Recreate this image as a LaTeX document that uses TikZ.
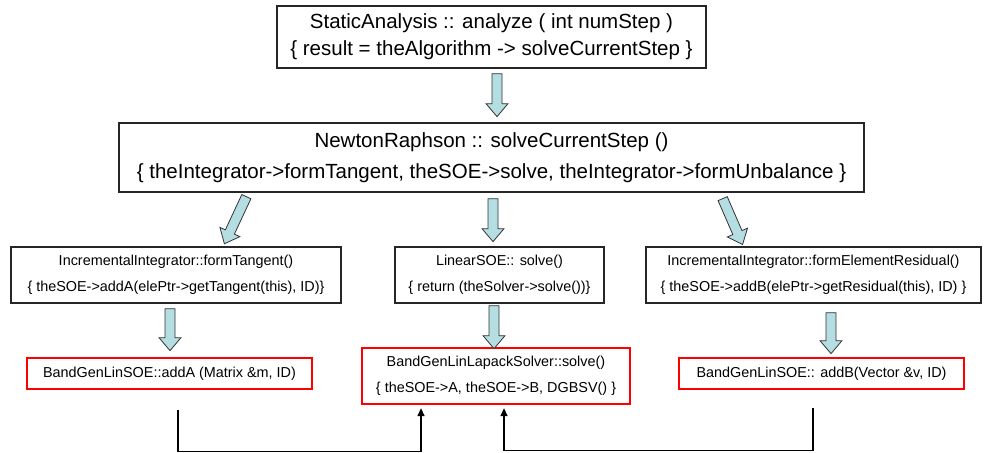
\documentclass[tikz,border=0pt]{standalone}
\usepackage{fontspec}
\setmainfont{Liberation Sans}
\usetikzlibrary{arrows.meta, positioning, calc}
\definecolor{arrowblue}{RGB}{180,222,226}

\begin{document}
\begin{tikzpicture}[
    x=1pt, y=-1pt,
    % Estilos de nodos
    callbox/.style={rectangle, draw=black!85, line width=1.3pt, align=center, inner sep=0pt},
    solverbox/.style={rectangle, draw=red, line width=1.3pt, align=center, inner sep=0pt},
    big/.style={font=\fontsize{20.5}{27}\selectfont},
    bigwide/.style={font=\fontsize{20.5}{31}\selectfont},
    small/.style={font=\fontsize{14.4}{26}\selectfont},
    link/.style={-{Triangle[length=8pt, width=7pt]}, line width=1.3pt},
    flowline/.style={draw=black!80, fill=arrowblue, line width=0.8pt},
    pics/flow/.style={code={
        \draw[flowline] (-5,0) -- (5,0) -- (5,{#1-13}) -- (11,{#1-13}) -- (0,#1)
            -- (-11,{#1-13}) -- (-5,{#1-13}) -- cycle;}}
]
\useasboundingbox (0,0) rectangle (984,452);

% Fila 1: analisis y algoritmo
\node[callbox, big, minimum width=429pt, minimum height=62pt] (analyze) at (491.5,37)
    {StaticAnalysis :: analyze ( int numStep )\\\{ result = theAlgorithm -> solveCurrentStep \}};
\node[callbox, bigwide, minimum width=745pt, minimum height=69pt] (newton) at (491.5,157.5)
    {NewtonRaphson :: solveCurrentStep ()\\\{ theIntegrator->formTangent, theSOE->solve, theIntegrator->formUnbalance \}};

% Fila 2: integrador y sistema de ecuaciones
\node[callbox, small, minimum width=330pt, minimum height=56pt] (tangent) at (176,275)
    {IncrementalIntegrator::formTangent()\\\{ theSOE->addA(elePtr->getTangent(this), ID)\}};
\node[callbox, small, minimum width=209pt, minimum height=56pt] (solve) at (499.5,275)
    {LinearSOE:: solve()\\\{ return (theSolver->solve())\}};
\node[callbox, small, minimum width=335pt, minimum height=56pt] (residual) at (813.5,275)
    {IncrementalIntegrator::formElementResidual()\\\{ theSOE->addB(elePtr->getResidual(this), ID) \}};

% Fila 3: clases concretas
\node[solverbox, small, minimum width=285pt, minimum height=31pt] (addA) at (169.5,373.5)
    {BandGenLinSOE::addA (Matrix \&m, ID)};
\node[solverbox, small, minimum width=268pt, minimum height=56pt] (lapack) at (496,376)
    {BandGenLinLapackSolver::solve()\\\{ theSOE->A, theSOE->B, DGBSV() \}};
\node[solverbox, small, minimum width=285pt, minimum height=31pt] (addB) at (821.5,373.5)
    {BandGenLinSOE:: addB(Vector \&v, ID)};

% Flechas de bloque
\pic at ([xshift=5.5pt, yshift=-5pt]analyze.south) {flow=43};
\pic[rotate=-25] at ([xshift=128pt, yshift=-4pt]newton.south west) {flow=52};
\pic at ([xshift=1.5pt, yshift=-6pt]newton.south) {flow=43};
\pic[rotate=23.5] at ([xshift=-142pt, yshift=-6pt]newton.south east) {flow=50};
\pic at ([xshift=-6pt, yshift=-5pt]tangent.south) {flow=42};
\pic at ([xshift=-5.5pt, yshift=-2pt]solve.south) {flow=43};
\pic at ([xshift=17.5pt, yshift=-9pt]residual.south) {flow=41};

% Conexiones hacia el solver
\coordinate (fromA) at ([xshift=8.5pt, yshift=-20pt]addA.south);
\coordinate (toA) at ([xshift=-75pt, yshift=-3.5pt]lapack.south);
\coordinate (fromB) at ([xshift=-8.5pt, yshift=-18pt]addB.south);
\coordinate (toB) at ([xshift=8pt, yshift=-3.5pt]lapack.south);
\draw[link] (fromA) -- ++(0,42) -| (toA);
\draw[link] (fromB) -- ++(0,43) -| (toB);

\end{tikzpicture}
\end{document}
